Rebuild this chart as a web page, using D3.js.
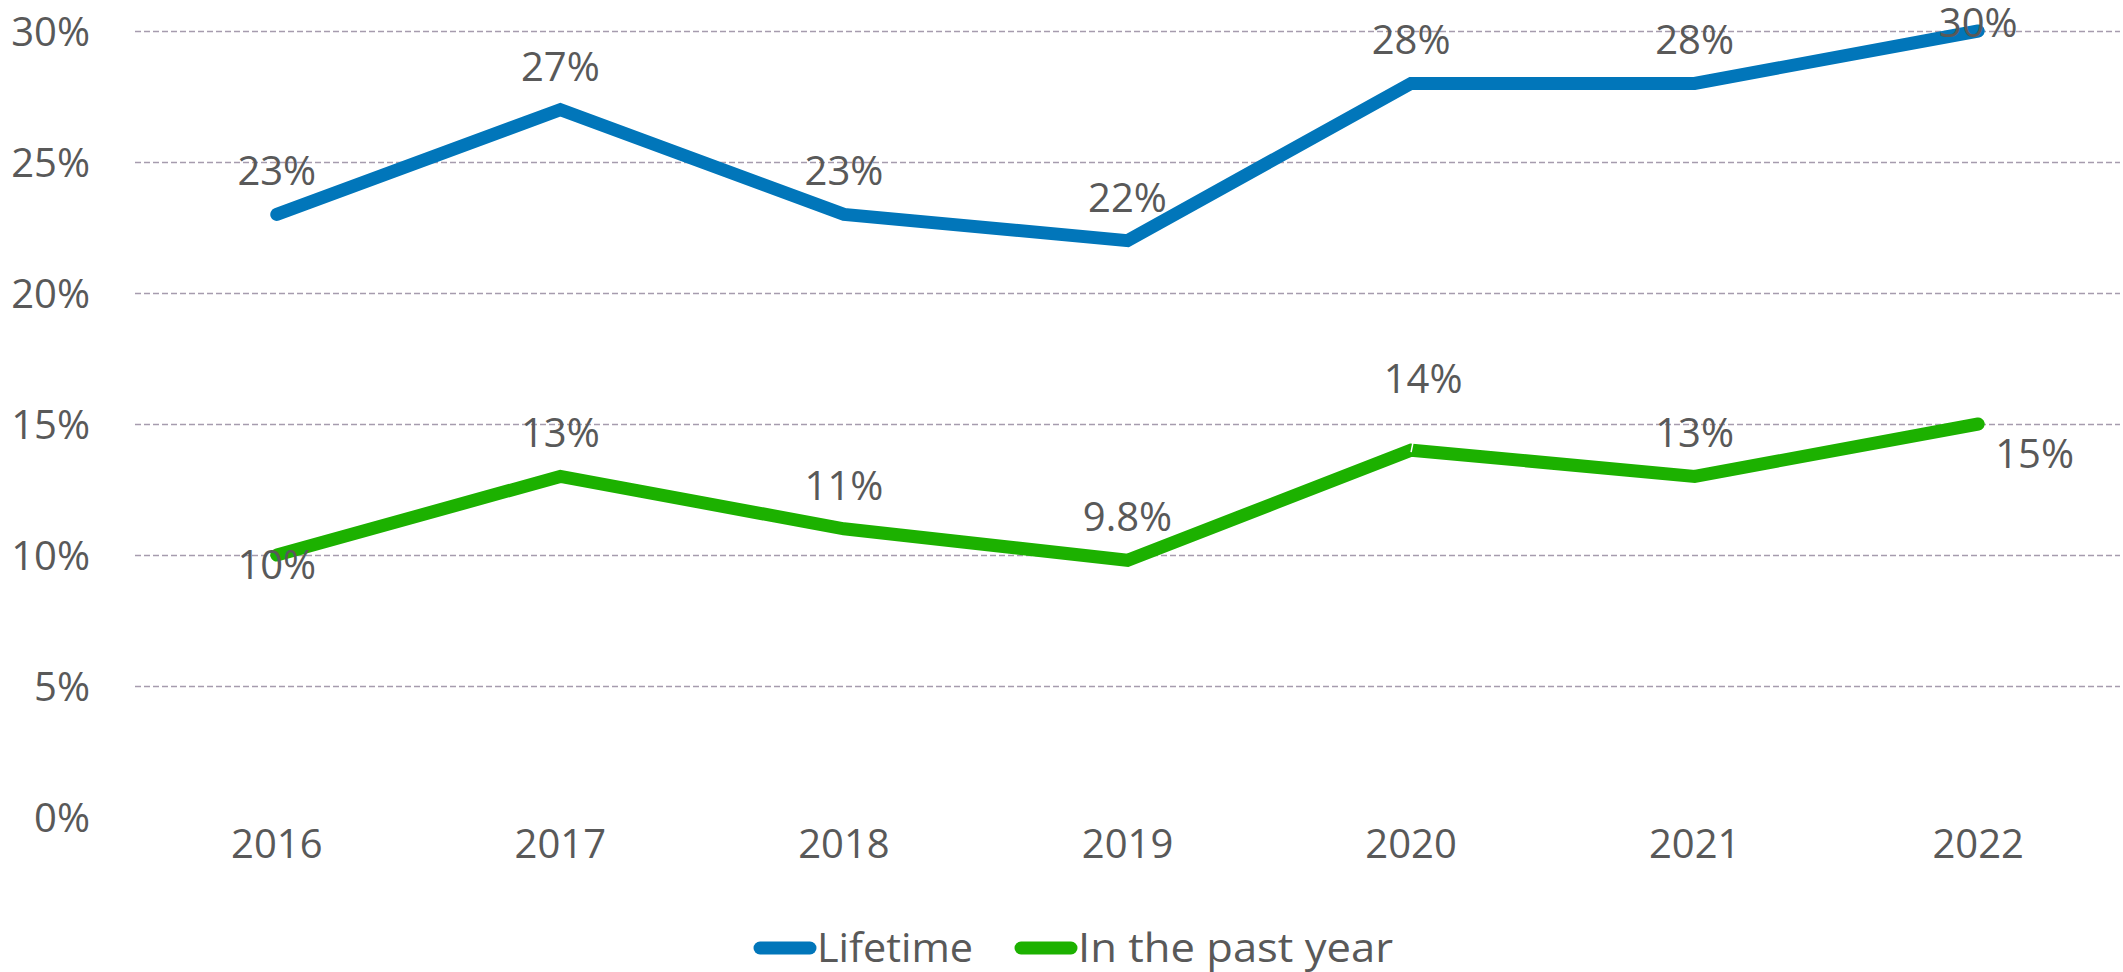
<!DOCTYPE html>
<html>
<head>
<meta charset="utf-8">
<script src="https://cdn.jsdelivr.net/npm/d3@7"></script>
<style>
  body { margin: 0; background: #fff; }
  svg { display: block; }
  text { font-family: "Open Sans", "DejaVu Sans", sans-serif; fill: #595959; }
</style>
</head>
<body>
<div id="graph"><svg></svg></div>
<script>
// data
const years = ["2016", "2017", "2018", "2019", "2020", "2021", "2022"];
const lifetime = [23, 27, 23, 22, 28, 28, 30];
const pastYear = [10, 13, 11, 9.8, 14, 13, 15];
const pastYearLabels = ["10%", "13%", "11%", "9.8%", "14%", "13%", "15%"];
const lifetimeLabels = ["23%", "27%", "23%", "22%", "28%", "28%", "30%"];
const yTicks = [0, 5, 10, 15, 20, 25, 30];
const seriesNames = ["Lifetime", "In the past year"];

// where each data label sits relative to its point
const lifetimePlace = ["above", "above", "above", "above", "above", "above", "above"];
const pastYearPlace = ["below", "above", "above", "above", "high", "above", "right"];

const colors = { lifetime: "#0176BA", pastYear: "#1CB100" };

// Margin Convention
let outerWidth = 2123;
let outerHeight = 972;
let margins = { top: 31, right: 3, bottom: 155, left: 135 };
let innerWidth = outerWidth - margins.left - margins.right;
let innerHeight = outerHeight - margins.top - margins.bottom;

let svg = d3.select("div#graph svg")
  .attr("width", outerWidth)
  .attr("height", outerHeight)
  .append("g")
  .attr("transform", "translate(" + margins.left + "," + margins.top + ")");

let xScale = d3.scaleBand().domain(years).range([0, innerWidth]).padding(0);
let yScale = d3.scaleLinear().domain([0, 30]).range([innerHeight, 0]);
let xc = (d) => xScale(d) + xScale.bandwidth() / 2;

// gridlines
svg.append("g")
  .selectAll("line")
  .data(yTicks.filter((t) => t > 0))
  .enter()
  .append("line")
  .attr("x1", 0)
  .attr("x2", innerWidth)
  .attr("y1", (d) => Math.round(yScale(d)) + 0.5)
  .attr("y2", (d) => Math.round(yScale(d)) + 0.5)
  .style("stroke", "#a69cae")
  .style("stroke-width", 1.3)
  .style("stroke-dasharray", "6,3");

// y axis
svg.append("g")
  .attr("transform", "translate(-42,0)")
  .call(d3.axisLeft(yScale).tickValues(yTicks).tickSize(0).tickFormat((d) => d + "%"))
  .attr("font-size", 40)
  .attr("font-family", "'Open Sans', sans-serif")
  .call((g) => g.select(".domain").remove())
  .selectAll("text")
  .attr("fill", "#595959")
  .attr("dy", "0.36em");

// x axis
svg.append("g")
  .attr("transform", "translate(0," + innerHeight + ")")
  .call(d3.axisBottom(xScale).tickSize(0))
  .attr("font-size", 40)
  .attr("font-family", "'Open Sans', sans-serif")
  .call((g) => g.select(".domain").remove())
  .selectAll("text")
  .attr("fill", "#595959")
  .attr("y", 41)
  .attr("dy", 0);

// lines
let line = d3.line()
  .x((d, i) => xc(years[i]))
  .y((d) => yScale(d));

function drawSeries(values, color) {
  svg.append("path")
    .datum(values)
    .attr("d", line)
    .style("fill", "none")
    .style("stroke", color)
    .style("stroke-width", 13)
    .style("stroke-linecap", "round")
    .style("stroke-linejoin", "miter");
}
drawSeries(lifetime, colors.lifetime);
drawSeries(pastYear, colors.pastYear);

// small white leader on the lifted 14% label
svg.append("line")
  .attr("x1", xc(years[4]))
  .attr("x2", xc(years[4]) + 2)
  .attr("y1", yScale(pastYear[4]) + 2)
  .attr("y2", yScale(pastYear[4]) - 8)
  .style("stroke", "#fff")
  .style("stroke-width", 1.5);

// data labels
function drawLabels(values, labels, places) {
  svg.append("g")
    .attr("font-size", 40)
    .selectAll("text")
    .data(values)
    .enter()
    .append("text")
    .attr("text-anchor", (d, i) => (places[i] == "right" ? "start" : "middle"))
    .attr("x", (d, i) => {
      let x = xc(years[i]);
      if (places[i] == "right") return x + 17;
      if (places[i] == "high") return x + 12;
      return x;
    })
    .attr("y", (d, i) => {
      let y = yScale(d);
      if (places[i] == "below") return y + 24;
      if (places[i] == "right") return y + 44;
      if (places[i] == "high") return y - 57;
      return Math.max(y - 29, 37 - margins.top);
    })
    .text((d, i) => labels[i]);
}
drawLabels(lifetime, lifetimeLabels, lifetimePlace);
drawLabels(pastYear, pastYearLabels, pastYearPlace);

// legend
let legend = d3.select("div#graph svg").append("g")
  .attr("transform", "translate(0,948)")
  .attr("font-size", 40);
let legendItems = [
  { name: seriesNames[0], color: colors.lifetime, x: 760, w: 156 },
  { name: seriesNames[1], color: colors.pastYear, x: 1021, w: 315 }
];
legendItems.forEach((it) => {
  legend.append("line")
    .attr("x1", it.x)
    .attr("x2", it.x + 50)
    .attr("y1", 0)
    .attr("y2", 0)
    .style("stroke", it.color)
    .style("stroke-width", 13)
    .style("stroke-linecap", "round");
  legend.append("text")
    .attr("x", it.x + 57)
    .attr("y", 14)
    .attr("textLength", it.w)
    .attr("lengthAdjust", "spacingAndGlyphs")
    .text(it.name);
});
</script>
</body>
</html>
